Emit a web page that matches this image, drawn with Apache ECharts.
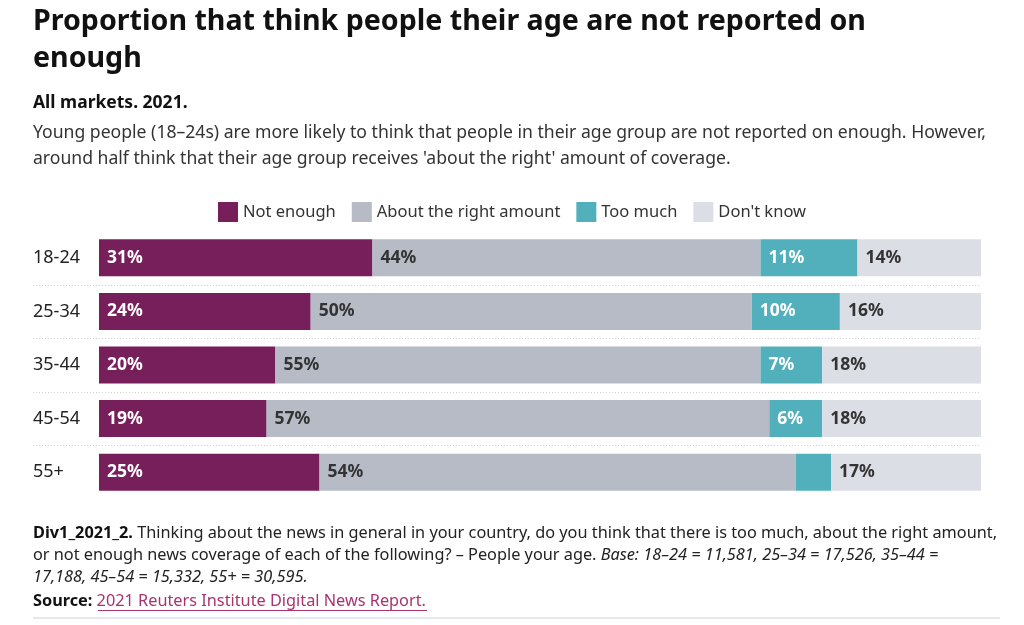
<!DOCTYPE html>
<html><head><meta charset="utf-8">
<script src="https://cdn.jsdelivr.net/npm/echarts@6/dist/echarts.min.js"></script>
<style>html,body{margin:0;padding:0;background:#fff}#c{width:1024px;height:625px}</style>
</head><body><div id="c"></div>
<script>
const categories = ['18-24', '25-34', '35-44', '45-54', '55+'];
const seriesNames = ['Not enough', 'About the right amount', 'Too much', "Don't know"];
const notEnough = [31, 24, 20, 19, 25];
const aboutRight = [44, 50, 55, 57, 54];
const tooMuch = [11, 10, 7, 6, 4];
const dontKnow = [14, 16, 18, 18, 17];
const colors = ['#771f5b', '#b6bbc6', '#52b0bd', '#dcdee5'];
const labelColors = ['#ffffff', '#333333', '#ffffff', '#333333'];
const values = [notEnough, aboutRight, tooMuch, dontKnow];

const FONT = '"Noto Sans", "Open Sans", sans-serif';
const COND = '"Noto Sans", sans-serif';

const chart = echarts.init(document.getElementById('c'));

const series = seriesNames.map((name, i) => ({
  name: name,
  type: 'bar',
  stack: 'total',
  barWidth: 37,
  data: values[i],
  itemStyle: { color: colors[i] },
  label: {
    show: true,
    position: 'insideLeft',
    distance: 8,
    fontFamily: FONT,
    fontWeight: 'bold',
    fontSize: 17.5,
    color: labelColors[i],
    formatter: p => (p.value >= 5 ? p.value + '%' : '')
  },
  emphasis: { disabled: true }
}));

const option = {
  animation: false,
  textStyle: { fontFamily: FONT },
  legend: {
    top: 197,
    left: 'center',
    itemWidth: 20,
    itemHeight: 20,
    itemGap: 16,
    icon: 'rect',
    textStyle: { fontFamily: FONT, fontSize: 16.5, color: '#333' },
    data: seriesNames
  },
  grid: { left: 99, right: 43, top: 231, bottom: 126 },
  xAxis: { type: 'value', min: 0, max: 100, show: false },
  yAxis: {
    type: 'category',
    data: categories,
    inverse: true,
    axisLine: { show: false },
    axisTick: { show: false },
    splitLine: { show: false },
    axisLabel: { align: 'left', margin: 66, fontFamily: FONT, fontSize: 18, color: '#222' }
  },
  series: series,
  graphic: [
    { type: 'text', left: 33, top: 3, style: { text: 'Proportion that think people their age are not reported on\nenough', fontFamily: FONT, fontWeight: 'bold', fontSize: 28.6, lineHeight: 37, fill: '#111' } },
    { type: 'text', left: 33, top: 94, style: { text: 'All markets. 2021.', fontFamily: FONT, fontWeight: 'bold', fontSize: 17.5, fill: '#111' } },
    { type: 'text', left: 33, top: 120, style: { text: "Young people (18–24s) are more likely to think that people in their age group are not reported on enough. However,\naround half think that their age group receives 'about the right' amount of coverage.", fontFamily: FONT, fontSize: 17.6, lineHeight: 26, fill: '#333' } },
    { type: 'text', left: 33, top: 522, style: {
      text: '{b|Div1_2021_2.} Thinking about the news in general in your country, do you think that there is too much, about the right amount,\nor not enough news coverage of each of the following? – People your age. {i|Base: 18–24 = 11,581, 25–34 = 17,526, 35–44 =}\n{i|17,188, 45–54 = 15,332, 55+ = 30,595.}',
      fontFamily: COND, fontSize: 16.3, lineHeight: 22, fill: '#222',
      rich: {
        b: { fontFamily: COND, fontWeight: 'bold', fontSize: 16.3, lineHeight: 22, fill: '#111' },
        i: { fontFamily: COND, fontStyle: 'italic', fontSize: 16.3, lineHeight: 22, fill: '#222' }
      } } },
    { type: 'text', left: 33, top: 593, style: {
      text: '{b|Source:} {l|2021 Reuters Institute Digital News Report.}',
      fontFamily: COND, fontSize: 16.3, fill: '#222',
      rich: {
        b: { fontFamily: COND, fontWeight: 'bold', fontSize: 16.3, fill: '#111' },
        l: { fontFamily: COND, fontSize: 16.3, fill: '#a8336f' }
      } } },
    { type: 'line', shape: { x1: 98, y1: 610.5, x2: 427, y2: 610.5 }, style: { stroke: '#a8336f', lineWidth: 1 } },
    { type: 'line', shape: { x1: 33, y1: 618, x2: 1000, y2: 618 }, style: { stroke: '#dde0e8', lineWidth: 1.5 } }
  ]
};
chart.setOption(option);

// dotted separators between rows, placed from the category axis scale
const seps = [];
for (let i = 0; i < categories.length - 1; i++) {
  const a = chart.convertToPixel({ yAxisIndex: 0 }, categories[i]);
  const b = chart.convertToPixel({ yAxisIndex: 0 }, categories[i + 1]);
  const y = Math.round((a + b) / 2) + 0.5;
  seps.push({ type: 'line', shape: { x1: 33, y1: y, x2: 981, y2: y }, style: { stroke: '#cfd2d8', lineWidth: 1, lineDash: [1, 2] }, z: -1 });
}
chart.setOption({ graphic: option.graphic.concat(seps) });
</script></body></html>
